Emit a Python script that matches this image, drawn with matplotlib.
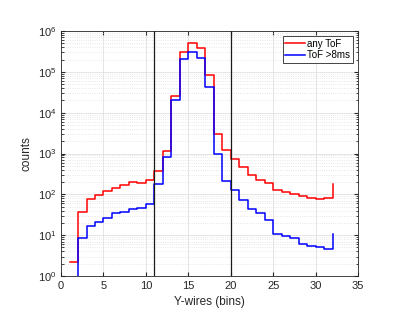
import matplotlib as mpl
mpl.rcParams['font.family'] = ['Liberation Sans', 'DejaVu Sans']
import numpy as np
import matplotlib.pyplot as plt
from matplotlib.ticker import LogLocator, NullFormatter

# wire bins 1..32
wires = np.arange(1, 33)
any_tof = [2.2, 36, 79, 98, 123, 146, 173, 204, 194, 229,
           380, 1180, 25600, 310000, 510000, 390000, 83000, 2960, 1230, 740,
           463, 294, 229, 195, 131, 112, 103, 93, 82, 76,
           82, 175]
tof_8ms = [0, 8.5, 16.8, 20.6, 27, 34, 38, 43, 45.6, 57,
           177, 845, 20000, 205000, 300000, 220000, 43000, 980, 211, 125,
           74, 45, 35, 23, 10.6, 9.5, 8.3, 6.2, 5.4, 5.0,
           4.6, 10.6]
cuts = [11, 20]

fig = plt.figure(figsize=(4.07, 3.18), dpi=100)
ax = fig.add_axes([0.150, 0.132, 0.730, 0.7705])

ax.step(wires, any_tof, where='post', color='r', lw=1.1, label='any ToF')
ax.step(wires, tof_8ms, where='post', color='b', lw=1.1, label='ToF >8ms')
for c in cuts:
    ax.axvline(c, color='#1a1a1a', lw=0.9)

ax.set_yscale('log')
ax.set_xlim(0, 35)
ax.set_ylim(1, 1e6)
ax.set_xticks(np.arange(0, 36, 5))
ax.yaxis.set_major_locator(LogLocator(base=10, numticks=10))
ax.yaxis.set_minor_locator(LogLocator(base=10, subs=np.arange(2, 10), numticks=20))
ax.yaxis.set_minor_formatter(NullFormatter())

ax.grid(True, which='major', color='#e0e0e0', lw=0.6)
ax.grid(True, which='minor', axis='y', color='#e0e0e0', lw=0.6, ls=':')
ax.set_axisbelow(True)

ax.tick_params(which='both', direction='in', top=True, right=True,
               labelsize=8, colors='#262626', length=3)
ax.tick_params(which='minor', length=1.8)
for s in ax.spines.values():
    s.set_color('#262626')
    s.set_linewidth(0.6)

ax.set_xlabel('Y-wires (bins)', fontsize=8.5, color='#262626')
ax.set_ylabel('counts', fontsize=8.5, color='#262626')

leg = ax.legend(loc='upper right', fontsize=7, fancybox=False, framealpha=1,
                edgecolor='#262626', handlelength=2.1, borderpad=0.25,
                labelspacing=0.15, handletextpad=0.2, borderaxespad=0.55)
leg.get_frame().set_linewidth(0.6)

fig.savefig('out.png', dpi=100)
